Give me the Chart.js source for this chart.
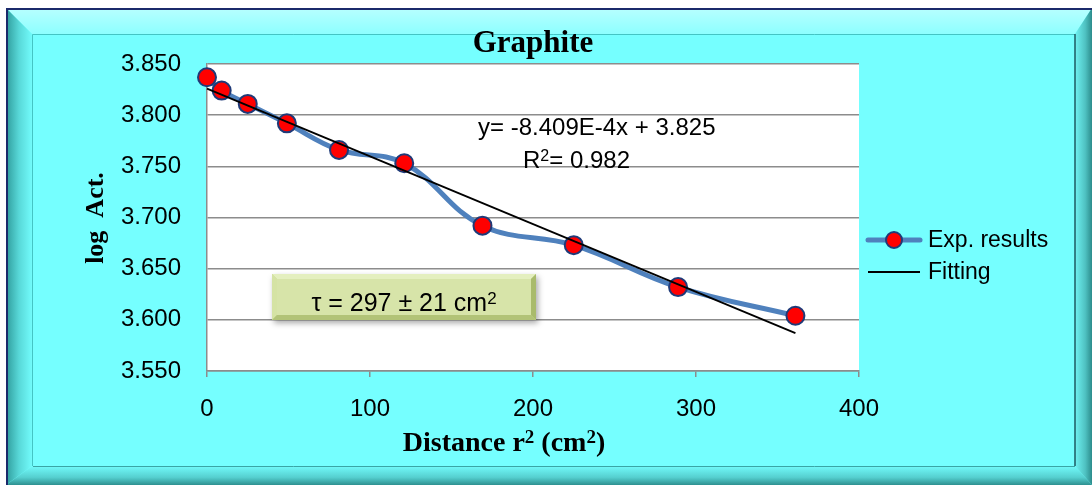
<!DOCTYPE html>
<html>
<head>
<meta charset="utf-8">
<script src="https://cdn.jsdelivr.net/npm/chart.js@4.4.1/dist/chart.umd.min.js"></script>
<style>
  html, body { margin: 0; padding: 0; background: #fff; }
  canvas { display: block; }
</style>
</head>
<body>
<canvas id="chart" width="1092" height="485"></canvas>
<script>
// Data
const distance = [0, 9, 25, 49, 81, 121, 169, 225, 289, 361];
const logAct = [3.837, 3.824, 3.811, 3.792, 3.766, 3.753, 3.692, 3.673, 3.632, 3.604];
const fitX = [0, 361];
const fitY = [3.826, 3.587];
const yTicks = [3.55, 3.60, 3.65, 3.70, 3.75, 3.80, 3.85];
const xTicks = [0, 100, 200, 300, 400];

const CYAN = '#75ffff';
const BLUE = '#4f81bd';

// draws text pieces, some as superscripts, starting at x
function drawRich(ctx, parts, x, y, size, supSize, family, weight) {
    parts.forEach(p => {
        const s = p.sup ? supSize : size;
        ctx.font = weight + ' ' + s + 'px ' + family;
        ctx.fillText(p.t, x, p.sup ? y - size * 0.3 : y);
        x += ctx.measureText(p.t).width;
    });
}
function measureRich(ctx, parts, size, supSize, family, weight) {
    let w = 0;
    parts.forEach(p => {
        ctx.font = weight + ' ' + (p.sup ? supSize : size) + 'px ' + family;
        w += ctx.measureText(p.t).width;
    });
    return w;
}

// background frame + white plot area
const framePlugin = {
    id: 'frame',
    beforeDraw(chart) {
        const ctx = chart.ctx;
        const W = 1092, H = 485;
        ctx.save();
        ctx.fillStyle = '#fff';
        ctx.fillRect(0, 0, W, H);

        ctx.fillStyle = CYAN;
        ctx.fillRect(6, 8, W - 6, H - 8);

        // top bevel (light)
        let g = ctx.createLinearGradient(0, 8, 0, 34);
        g.addColorStop(0, '#b8ffff');
        g.addColorStop(1, '#8dffff');
        ctx.fillStyle = g;
        ctx.beginPath();
        ctx.moveTo(6, 8); ctx.lineTo(W, 8); ctx.lineTo(1075, 34); ctx.lineTo(32, 34);
        ctx.closePath(); ctx.fill();

        // left bevel (dark)
        g = ctx.createLinearGradient(6, 0, 32, 0);
        g.addColorStop(0, '#2f9c9c');
        g.addColorStop(0.5, '#58d8d8');
        g.addColorStop(1, '#72fbfb');
        ctx.fillStyle = g;
        ctx.beginPath();
        ctx.moveTo(6, 8); ctx.lineTo(32, 34); ctx.lineTo(32, 466); ctx.lineTo(6, H);
        ctx.closePath(); ctx.fill();

        // bottom bevel
        g = ctx.createLinearGradient(0, 466, 0, H);
        g.addColorStop(0, '#72fbfb');
        g.addColorStop(0.6, '#55cfcf');
        g.addColorStop(1, '#2e9090');
        ctx.fillStyle = g;
        ctx.beginPath();
        ctx.moveTo(6, H); ctx.lineTo(32, 466); ctx.lineTo(1075, 466); ctx.lineTo(W, H);
        ctx.closePath(); ctx.fill();

        // right bevel
        g = ctx.createLinearGradient(1075, 0, W, 0);
        g.addColorStop(0, '#6ff2f2');
        g.addColorStop(0.6, '#4fc2c2');
        g.addColorStop(1, '#2c8c8c');
        ctx.fillStyle = g;
        ctx.beginPath();
        ctx.moveTo(1075, 34); ctx.lineTo(W, 8); ctx.lineTo(W, H); ctx.lineTo(1075, 466);
        ctx.closePath(); ctx.fill();

        // inner panel
        ctx.fillStyle = CYAN;
        ctx.fillRect(32, 34, 1075 - 32, 466 - 34);
        ctx.strokeStyle = '#45c4c4';
        ctx.lineWidth = 1;
        ctx.beginPath();
        ctx.moveTo(32.5, 466); ctx.lineTo(32.5, 34.5); ctx.lineTo(1075, 34.5);
        ctx.stroke();
        ctx.strokeStyle = '#1d5a62';
        ctx.lineWidth = 1.5;
        ctx.beginPath();
        ctx.moveTo(1075, 34); ctx.lineTo(1075, 466);
        ctx.stroke();
        ctx.strokeStyle = '#3aa5a5';
        ctx.lineWidth = 1;
        ctx.beginPath();
        ctx.moveTo(33, 466.5); ctx.lineTo(1075, 466.5);
        ctx.stroke();

        // outer dark line
        ctx.strokeStyle = '#1b2a6b';
        ctx.lineWidth = 2;
        ctx.beginPath();
        ctx.moveTo(7, H); ctx.lineTo(7, 9); ctx.lineTo(W, 9);
        ctx.stroke();

        // plot area
        const a = chart.chartArea;
        ctx.fillStyle = '#fff';
        ctx.fillRect(a.left, a.top, a.right - a.left, a.bottom - a.top);
        ctx.restore();
    },
    afterDraw(chart) {
        const ctx = chart.ctx;
        ctx.save();
        ctx.fillStyle = '#000';
        ctx.textBaseline = 'alphabetic';

        // title
        ctx.font = 'bold 31px "Liberation Serif"';
        ctx.textAlign = 'center';
        ctx.fillText('Graphite', 533, 52);

        // x axis title with superscripts
        ctx.textAlign = 'left';
        const xt = [{ t: 'Distance r' }, { t: '2', sup: true }, { t: ' (cm' }, { t: '2', sup: true }, { t: ')' }];
        const fam = '"Liberation Serif"';
        const xw = measureRich(ctx, xt, 28, 19, fam, 'bold');
        drawRich(ctx, xt, 504 - xw / 2, 451, 28, 19, fam, 'bold');

        // y axis title
        ctx.save();
        ctx.translate(103, 218);
        ctx.rotate(-Math.PI / 2);
        ctx.textAlign = 'center';
        ctx.font = 'bold 26px "Liberation Serif"';
        ctx.fillText('log  Act.', 0, 0);
        ctx.restore();

        // equation
        ctx.textAlign = 'left';
        ctx.font = '24px "Liberation Sans"';
        ctx.fillText('y= -8.409E-4x + 3.825', 478, 135);
        drawRich(ctx, [{ t: 'R' }, { t: '2', sup: true }, { t: '= 0.982' }], 523, 168, 24, 16, '"Liberation Sans"', 'normal');

        // tau box
        const bx = 272, by = 274, bw = 264, bh = 46, bv = 5;
        ctx.save();
        ctx.shadowColor = 'rgba(0,0,0,0.35)';
        ctx.shadowBlur = 6;
        ctx.shadowOffsetX = 2;
        ctx.shadowOffsetY = 3;
        ctx.fillStyle = '#c4d48e';
        ctx.fillRect(bx, by, bw, bh);
        ctx.restore();
        ctx.fillStyle = '#e4efbf';
        ctx.beginPath();
        ctx.moveTo(bx, by); ctx.lineTo(bx + bw, by); ctx.lineTo(bx + bw - bv, by + bv); ctx.lineTo(bx + bv, by + bv);
        ctx.closePath(); ctx.fill();
        ctx.fillStyle = '#d5e3a4';
        ctx.beginPath();
        ctx.moveTo(bx, by); ctx.lineTo(bx + bv, by + bv); ctx.lineTo(bx + bv, by + bh - bv); ctx.lineTo(bx, by + bh);
        ctx.closePath(); ctx.fill();
        ctx.fillStyle = '#a9bb6c';
        ctx.beginPath();
        ctx.moveTo(bx + bw, by); ctx.lineTo(bx + bw, by + bh); ctx.lineTo(bx + bw - bv, by + bh - bv); ctx.lineTo(bx + bw - bv, by + bv);
        ctx.closePath(); ctx.fill();
        ctx.fillStyle = '#b2c377';
        ctx.beginPath();
        ctx.moveTo(bx, by + bh); ctx.lineTo(bx + bv, by + bh - bv); ctx.lineTo(bx + bw - bv, by + bh - bv); ctx.lineTo(bx + bw, by + bh);
        ctx.closePath(); ctx.fill();
        ctx.fillStyle = '#d7e4a9';
        ctx.fillRect(bx + bv, by + bv, bw - 2 * bv, bh - 2 * bv);
        ctx.fillStyle = '#000';
        const tt = [{ t: '\u03c4 = 297 \u00b1 21 cm' }, { t: '2', sup: true }];
        const tw = measureRich(ctx, tt, 25, 17, '"Liberation Sans"', 'normal');
        drawRich(ctx, tt, bx + bw / 2 - tw / 2, 311, 25, 17, '"Liberation Sans"', 'normal');

        // legend
        ctx.textAlign = 'left';
        ctx.textBaseline = 'middle';
        ctx.lineCap = 'round';
        ctx.strokeStyle = BLUE;
        ctx.lineWidth = 5;
        ctx.beginPath();
        ctx.moveTo(868, 240); ctx.lineTo(920, 240);
        ctx.stroke();
        ctx.beginPath();
        ctx.arc(894, 240, 8, 0, Math.PI * 2);
        ctx.fillStyle = '#ff0000';
        ctx.fill();
        ctx.lineWidth = 2;
        ctx.strokeStyle = '#1f3a78';
        ctx.stroke();
        ctx.lineCap = 'butt';
        ctx.strokeStyle = '#000';
        ctx.lineWidth = 2;
        ctx.beginPath();
        ctx.moveTo(868, 272); ctx.lineTo(920, 272);
        ctx.stroke();
        ctx.fillStyle = '#000';
        ctx.font = '23px "Liberation Sans"';
        ctx.fillText('Exp. results', 928, 241);
        ctx.fillText('Fitting', 928, 273);
        ctx.restore();
    }
};

const ctx = document.getElementById('chart').getContext('2d');
new Chart(ctx, {
    type: 'scatter',
    data: {
        datasets: [{
            label: 'Fitting',
            data: fitX.map((x, i) => ({ x: x, y: fitY[i] })),
            showLine: true,
            borderColor: '#000',
            borderWidth: 1.8,
            pointRadius: 0,
            clip: false,
            order: 0
        }, {
            label: 'Exp. results',
            data: distance.map((x, i) => ({ x: x, y: logAct[i] })),
            showLine: true,
            borderColor: BLUE,
            borderWidth: 5,
            tension: 0.4,
            pointRadius: 9,
            pointBackgroundColor: '#ff0000',
            pointBorderColor: '#1f3a78',
            pointBorderWidth: 2,
            clip: false,
            order: 1
        }]
    },
    options: {
        responsive: false,
        animation: false,
        layout: { padding: { left: 0, top: 64, right: 233, bottom: 0 } },
        plugins: {
            legend: { display: false },
            tooltip: { enabled: false }
        },
        scales: {
            x: {
                type: 'linear',
                min: 0,
                max: 400,
                afterFit(scale) { scale.height = 114; },
                afterBuildTicks(scale) { scale.ticks = xTicks.map(v => ({ value: v })); },
                grid: { drawOnChartArea: false, drawTicks: true, tickLength: 6, color: '#8c8c8c', lineWidth: 1.5 },
                border: { color: '#8c8c8c', width: 1.5 },
                ticks: {
                    padding: 18,
                    color: '#000',
                    font: { family: 'Liberation Sans', size: 24 },
                    maxRotation: 0
                }
            },
            y: {
                type: 'linear',
                min: 3.55,
                max: 3.85,
                afterFit(scale) { scale.width = 207; },
                afterBuildTicks(scale) { scale.ticks = yTicks.map(v => ({ value: v })); },
                grid: { drawTicks: false, color: '#8c8c8c', lineWidth: 1.5 },
                border: { color: '#8c8c8c', width: 1.5 },
                ticks: {
                    padding: 26,
                    color: '#000',
                    font: { family: 'Liberation Sans', size: 24 },
                    callback: v => v.toFixed(3)
                }
            }
        }
    },
    plugins: [framePlugin]
});
</script>
</body>
</html>
